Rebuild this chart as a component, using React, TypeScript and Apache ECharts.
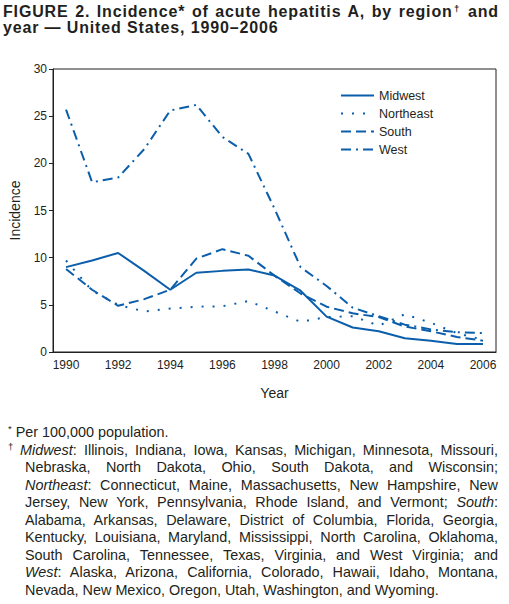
import { useEffect, useRef } from 'react';
import * as echarts from 'echarts';

const years = [
  '1990', '1991', '1992', '1993', '1994', '1995', '1996', '1997', '1998',
  '1999', '2000', '2001', '2002', '2003', '2004', '2005', '2006',
];

const midwest = [9.0, 9.7, 10.5, 8.6, 6.6, 8.4, 8.6, 8.75, 8.1, 6.5, 3.75, 2.6, 2.2, 1.45, 1.2, 0.85, 0.85];
const northeast = [9.7, 6.5, 5.0, 4.3, 4.6, 4.8, 4.85, 5.4, 4.3, 3.2, 3.7, 3.8, 2.8, 4.0, 3.1, 2.0, 1.3];
const south = [8.8, 6.6, 4.9, 5.6, 6.6, 9.9, 10.9, 10.2, 8.1, 6.2, 4.8, 4.1, 3.7, 2.7, 2.2, 1.6, 1.2];
const west = [25.7, 18.0, 18.5, 21.5, 25.6, 26.2, 22.8, 21.0, 15.2, 9.0, 7.0, 4.7, 3.8, 2.9, 2.4, 2.1, 2.0];

const seriesNames = ['Midwest', 'Northeast', 'South', 'West'];

const FONT = "'Liberation Sans', Arial, Helvetica, sans-serif";
const BLUE = '#0b5eab';
const INK = '#231f20';

const footLine = (top: number, left: number, justify: boolean): React.CSSProperties => ({
  position: 'absolute',
  left,
  top,
  width: 498 - left,
  font: `14.4px/17.5px ${FONT}`,
  color: INK,
  whiteSpace: 'nowrap',
  textAlign: justify ? 'justify' : 'left',
  textAlignLast: justify ? 'justify' : 'left',
});

const supStyle: React.CSSProperties = { fontSize: 9.5, position: 'relative', top: -5 };

export default function App() {
  const chartRef = useRef<HTMLDivElement>(null);

  useEffect(() => {
    if (!chartRef.current) return;
    const chart = echarts.init(chartRef.current, undefined, { renderer: 'svg' });

    const axisLineStyle = { color: INK, width: 1 };

    chart.setOption({
      animation: false,
      textStyle: { fontFamily: FONT },
      grid: {
        left: 52,
        top: 69,
        width: 444,
        height: 283,
        show: true,
        borderColor: INK,
        borderWidth: 1,
      },
      legend: {
        orient: 'vertical',
        left: 335,
        top: 84,
        itemWidth: 33,
        itemHeight: 10,
        itemGap: 5,
        data: seriesNames,
        itemStyle: { opacity: 0 },
        textStyle: { fontSize: 12.5, color: INK, fontFamily: FONT },
      },
      xAxis: {
        type: 'category',
        data: years,
        boundaryGap: true,
        name: 'Year',
        nameLocation: 'middle',
        nameGap: 34,
        nameTextStyle: { fontSize: 14, color: INK, fontFamily: FONT },
        axisLine: { lineStyle: axisLineStyle },
        axisTick: { alignWithLabel: true, interval: 0, length: 4, lineStyle: axisLineStyle },
        axisLabel: { interval: 1, margin: 7, fontSize: 12, color: INK, fontFamily: FONT },
        splitLine: { show: false },
      },
      yAxis: {
        type: 'value',
        min: 0,
        max: 30,
        interval: 5,
        name: 'Incidence',
        nameLocation: 'middle',
        nameGap: 31,
        nameTextStyle: { fontSize: 14, color: INK, fontFamily: FONT },
        axisLine: { show: true, lineStyle: axisLineStyle },
        axisTick: { show: true, length: 4, lineStyle: axisLineStyle },
        axisLabel: { margin: 6, fontSize: 12, color: INK, fontFamily: FONT },
        splitLine: { show: false },
      },
      series: [
        {
          name: 'Midwest',
          type: 'line',
          data: midwest,
          symbol: 'none',
          lineStyle: { color: BLUE, width: 2, type: 'solid' },
          itemStyle: { color: BLUE },
        },
        {
          name: 'Northeast',
          type: 'line',
          data: northeast,
          symbol: 'none',
          lineStyle: { color: BLUE, width: 2, type: [2, 9] },
          itemStyle: { color: BLUE },
        },
        {
          name: 'South',
          type: 'line',
          data: south,
          symbol: 'none',
          lineStyle: { color: BLUE, width: 2, type: [10, 5] },
          itemStyle: { color: BLUE },
        },
        {
          name: 'West',
          type: 'line',
          data: west,
          symbol: 'none',
          lineStyle: { color: BLUE, width: 2, type: [10, 5, 2, 5] },
          itemStyle: { color: BLUE },
        },
      ],
    });

    return () => {
      chart.dispose();
    };
  }, []);

  return (
    <div style={{ position: 'absolute', left: 0, top: 0, width: 509, height: 604, background: '#fff' }}>
      <div ref={chartRef} style={{ position: 'absolute', left: 0, top: 0, width: 509, height: 604 }} />

      <div
        style={{
          position: 'absolute',
          left: 3,
          top: 4,
          width: 496,
          font: `bold 16px/16px ${FONT}`,
          letterSpacing: 0.85,
          color: INK,
          whiteSpace: 'nowrap',
          textAlign: 'justify',
          textAlignLast: 'justify',
        }}
      >
        FIGURE 2. Incidence* of acute hepatitis A, by region<span style={supStyle}>†</span> and
      </div>
      <div
        style={{
          position: 'absolute',
          left: 3,
          top: 20,
          font: `bold 16px/16px ${FONT}`,
          letterSpacing: 0.85,
          color: INK,
          whiteSpace: 'nowrap',
        }}
      >
        year — United States, 1990–2006
      </div>

      <div style={footLine(424, 8, false)}>
        <span style={supStyle}>*</span> Per 100,000 population.
      </div>
      <div style={{ ...footLine(441.5, 8, false), width: 12 }}>
        <span style={supStyle}>†</span>
      </div>
      <div style={footLine(441.5, 20, true)}>
        <i>Midwest</i>: Illinois, Indiana, Iowa, Kansas, Michigan, Minnesota, Missouri,
      </div>
      <div style={footLine(459, 25, true)}>
        Nebraska, North Dakota, Ohio, South Dakota, and Wisconsin;
      </div>
      <div style={footLine(476.5, 25, true)}>
        <i>Northeast</i>: Connecticut, Maine, Massachusetts, New Hampshire, New
      </div>
      <div style={footLine(494, 25, true)}>
        Jersey, New York, Pennsylvania, Rhode Island, and Vermont; <i>South</i>:
      </div>
      <div style={footLine(511.5, 25, true)}>
        Alabama, Arkansas, Delaware, District of Columbia, Florida, Georgia,
      </div>
      <div style={footLine(529, 25, true)}>
        Kentucky, Louisiana, Maryland, Mississippi, North Carolina, Oklahoma,
      </div>
      <div style={footLine(546.5, 25, true)}>
        South Carolina, Tennessee, Texas, Virginia, and West Virginia; and
      </div>
      <div style={footLine(564, 25, true)}>
        <i>West</i>: Alaska, Arizona, California, Colorado, Hawaii, Idaho, Montana,
      </div>
      <div style={footLine(581.5, 25, false)}>
        Nevada, New Mexico, Oregon, Utah, Washington, and Wyoming.
      </div>
    </div>
  );
}
